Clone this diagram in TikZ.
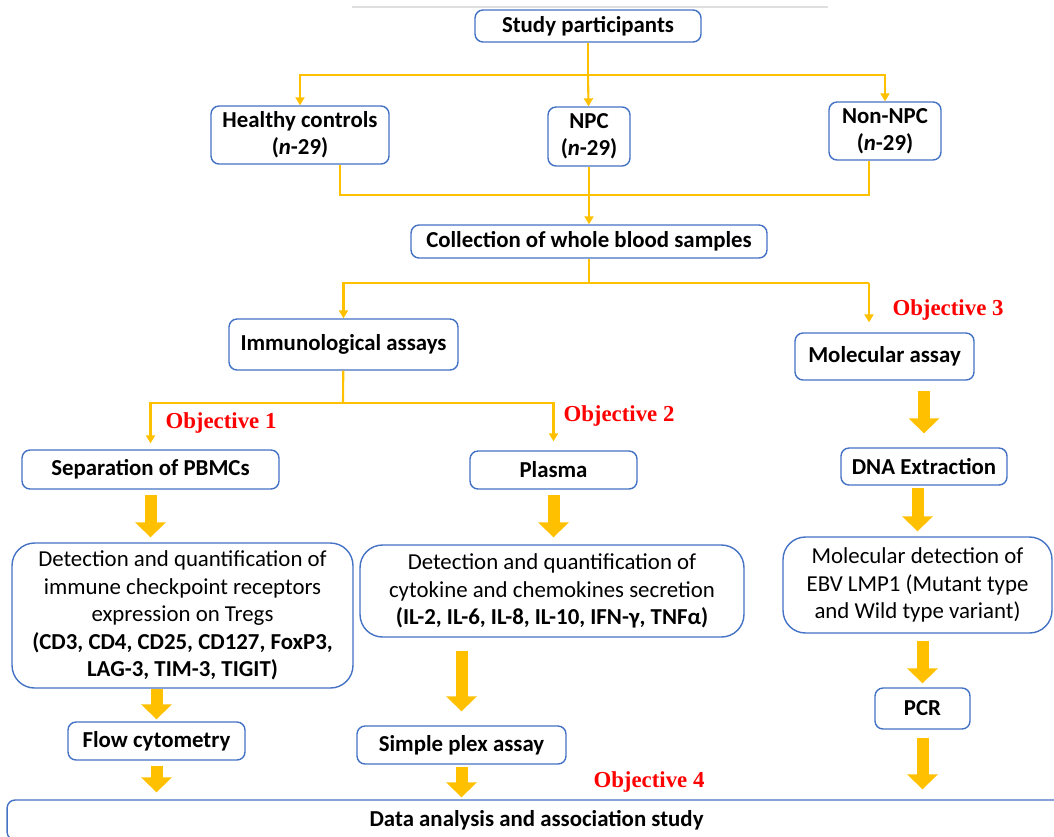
\documentclass[tikz,border=0pt]{standalone}
\usepackage{fontspec}
\setmainfont{Carlito}
\newfontfamily\objfont{Liberation Serif}
\usetikzlibrary{arrows.meta}

\definecolor{gold}{HTML}{FFC000}
\definecolor{boxblue}{HTML}{4472C4}

\begin{document}
\begin{tikzpicture}[x=0.02cm,y=-0.02cm,
  box/.style={draw=boxblue,line width=0.8pt,rounded corners=0.16cm,inner sep=0pt,
    align=center,font=\bfseries\fontsize{13}{15.6}\selectfont},
  bigbox/.style={box,rounded corners=0.45cm,font=\fontsize{13}{15.6}\selectfont},
  link/.style={gold,line width=1.2pt},
  tip/.style={link,-{Triangle[width=0.18cm,length=0.16cm]}},
  fat/.style={gold,line width=0.24cm,-{Triangle[width=0.6cm,length=0.3cm]}},
  obj/.style={text=red,font=\objfont\bfseries\fontsize{13}{15}\selectfont}]

\useasboundingbox (0,0) rectangle (1054,836);

\draw[gray!25,line width=0.6pt] (352,7) -- (828,7);

% boxes
\node[box,minimum width=4.52cm,minimum height=0.64cm] (study) at (588,26) {Study participants};
\node[box,minimum width=3.56cm,minimum height=1.16cm] (healthy) at (300,135) {Healthy controls\\(\textit{n}-29)};
\node[box,minimum width=1.64cm,minimum height=1.18cm] (npc) at (589,136.5) {NPC\\(\textit{n}-29)};
\node[box,minimum width=2.24cm,minimum height=1.16cm] (nonnpc) at (885,131) {Non-NPC\\(\textit{n}-29)};
\node[box,minimum width=7.12cm,minimum height=0.66cm] (collect) at (589,241.5) {Collection of whole blood samples};
\node[box,minimum width=4.58cm,minimum height=1.02cm] (immuno) at (343.5,344.5) {Immunological assays};
\node[box,minimum width=3.58cm,minimum height=0.94cm] (molec) at (884.5,356.5) {Molecular assay};
\node[box,minimum width=5.14cm,minimum height=0.78cm] (sep) at (150.5,469.5) {Separation of PBMCs};
\node[box,minimum width=3.34cm,minimum height=0.76cm] (plasma) at (553.5,470) {Plasma};
\node[box,minimum width=3.32cm,minimum height=0.74cm] (dna) at (924,466.5) {DNA Extraction};
\node[bigbox,minimum width=6.82cm,minimum height=2.9cm] (det1) at (182.5,615.5)
  {Detection and quantification of\\immune checkpoint receptors\\expression on Tregs\\
   \textbf{(CD3, CD4, CD25, CD127, FoxP3,}\\\textbf{LAG-3, TIM-3, TIGIT)}};
\node[bigbox,minimum width=7.68cm,minimum height=1.84cm] (det2) at (552,591)
  {Detection and quantification of\\cytokine and chemokines secretion\\
   \textbf{(IL-2, IL-6, IL-8, IL-10, IFN-γ, TNFα)}};
\node[bigbox,minimum width=5.38cm,minimum height=1.92cm] (moldet) at (917.5,585)
  {Molecular detection of\\EBV LMP1 (Mutant type\\and Wild type variant)};
\node[box,minimum width=1.9cm,minimum height=0.82cm] (pcr) at (922.5,708.5) {PCR};
\node[box,minimum width=3.54cm,minimum height=0.76cm] (flow) at (156.5,741) {Flow cytometry};
\node[box,minimum width=4.18cm,minimum height=0.76cm] (plex) at (461.5,745) {Simple plex assay};
\node[box,minimum width=21.18cm,minimum height=0.8cm] (data) at (536.5,820) {Data analysis and association study};

\node[obj] (o1) at (221,423) {Objective 1};
\node[obj] (o2) at (619,416) {Objective 2};
\node[obj] (o3) at (948,310) {Objective 3};
\node[obj] (o4) at (649,782) {Objective 4};

% thin connectors
\coordinate (top) at (588,75);
\draw[link] (study) -- (top);
\draw[tip] (top) -| (healthy);
\draw[tip] (top) -| (nonnpc);
\draw[tip] (top) -- (npc);

\coordinate (h) at (340,195);
\coordinate (n) at (869,195);
\draw[link] (healthy.south -| h) -- (h) -- (n) -- (nonnpc.south -| n);
\draw[tip] (npc) -- (collect);

\coordinate (c) at (589,283);
\coordinate (c3) at (869,283);
\draw[link] (collect) -- (c) -- (c3);
\draw[tip] (c) -| (immuno);
\draw[tip,shorten >=0.2cm] (c3) -- (c3 |- molec.north);

\coordinate (i) at (343,403);
\draw[link] (immuno) -- (i);
\draw[tip,shorten >=0.12cm] (i) -| (sep);
\draw[tip,shorten >=0.18cm] (i) -| (plasma);

% block arrows
\foreach \a/\b/\s/\e in {sep/det1/0.1cm/0.1cm, plasma/det2/0.1cm/0.14cm,
    flow/data/0.1cm/0.14cm, plex/data/0.04cm/0.04cm, pcr/data/0.16cm/0.2cm}
  \draw[fat,shorten <=\s,shorten >=\e] (\a.south) -- (\a.south |- \b.north);

\foreach \a/\b/\s/\e in {molec/dna/0.2cm/0.28cm, dna/moldet/0.04cm/0.1cm,
    moldet/pcr/0.14cm/0.08cm, det1/flow/0cm/0.04cm, det2/plex/0.26cm/0.28cm}
  \draw[fat,shorten <=\s,shorten >=\e] (\a.south -| \b) -- (\b.north);

\end{tikzpicture}
\end{document}
